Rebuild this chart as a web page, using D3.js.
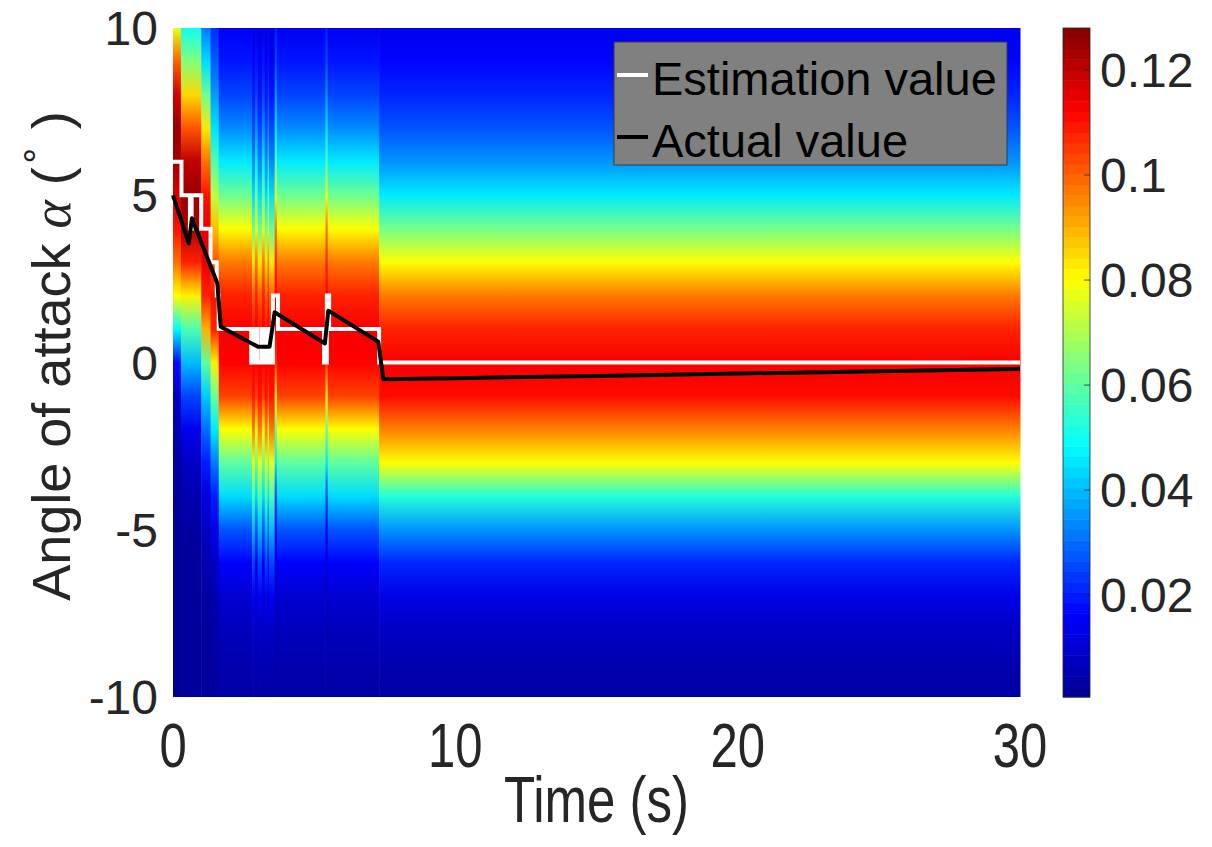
<!DOCTYPE html>
<html>
<head>
<meta charset="utf-8">
<script src="https://cdn.jsdelivr.net/npm/d3@7"></script>
<style>
  body { margin: 0; background: #fff; }
  text { font-family: "Liberation Sans", Arial, sans-serif; fill: #262626; }
</style>
</head>
<body>
<div id="chart"></div>
<script>
// angle of attack grid of the map profiles, top to bottom
const alphaGrid = [10, 9, 8, 7, 6, 5, 4, 3, 2, 1, 0, -1, -2, -3, -4, -5, -6, -7, -8, -9, -10];

// map value along alphaGrid for each kind of time column
const prof1 = [0.078, 0.100, 0.118, 0.125, 0.124, 0.117, 0.110, 0.098, 0.080, 0.048, 0.018, 0.008, 0.005, 0.003, 0.002, 0.0015, 0.001, 0.001, 0.001, 0.001, 0.001];
const prof2 = [0.050, 0.065, 0.085, 0.102, 0.120, 0.125, 0.122, 0.108, 0.082, 0.058, 0.040, 0.025, 0.014, 0.008, 0.005, 0.003, 0.002, 0.002, 0.002, 0.002, 0.002];
const prof3 = [0.032, 0.044, 0.062, 0.083, 0.098, 0.110, 0.115, 0.115, 0.108, 0.090, 0.060, 0.042, 0.030, 0.020, 0.012, 0.008, 0.005, 0.003, 0.002, 0.002, 0.002];
const prof4 = [0.022, 0.028, 0.036, 0.045, 0.058, 0.072, 0.088, 0.102, 0.110, 0.108, 0.082, 0.062, 0.046, 0.032, 0.020, 0.013, 0.008, 0.005, 0.004, 0.003, 0.002];
const prof5 = [0.015, 0.019, 0.025, 0.034, 0.046, 0.062, 0.080, 0.097, 0.108, 0.113, 0.112, 0.104, 0.080, 0.060, 0.044, 0.027, 0.016, 0.010, 0.007, 0.005, 0.004];
const prof6 = [0.012, 0.015, 0.019, 0.025, 0.033, 0.044, 0.060, 0.083, 0.100, 0.110, 0.113, 0.110, 0.097, 0.078, 0.058, 0.040, 0.025, 0.015, 0.009, 0.006, 0.004];
const profSpike = [0.020, 0.026, 0.035, 0.045, 0.059, 0.080, 0.097, 0.108, 0.113, 0.112, 0.105, 0.082, 0.060, 0.045, 0.025, 0.015, 0.010, 0.007, 0.005, 0.004, 0.003];
const profEnd = [0.014, 0.017, 0.021, 0.027, 0.035, 0.046, 0.063, 0.080, 0.097, 0.108, 0.113, 0.111, 0.096, 0.080, 0.053, 0.035, 0.021, 0.013, 0.008, 0.005, 0.004];

// time columns of the map
const colStart = [0, 0.28, 1.0, 1.33, 1.62, 2.8, 2.9, 3.0, 3.15, 3.25, 3.35, 3.4, 3.6, 3.68, 5.4, 5.48, 7.3];
const colEnd   = [0.28, 1.0, 1.33, 1.62, 2.8, 2.9, 3.0, 3.15, 3.25, 3.35, 3.4, 3.6, 3.68, 5.4, 5.48, 7.3, 30];
const colProf  = [prof1, prof2, prof3, prof4, prof5, prof6, prof5, prof6, prof5, prof6, prof5, prof6, profSpike, prof5, profSpike, prof5, profEnd];

// estimation value (steps) and actual value
const estTime  = [0, 0.3, 0.6, 0.66, 1.0, 1.33, 1.55, 1.62, 2.77, 2.9, 3.0, 3.15, 3.25, 3.35, 3.4, 3.54, 3.72, 5.35, 5.45, 5.53, 7.3, 30];
const estAlpha = [6, 5, 4, 5, 4, 3, 2, 1, 0, 1, 0, 1, 0, 1, 0, 2, 1, 0, 2, 1, 0, 0];
const actTime  = [0, 0.56, 0.67, 1.57, 1.69, 3.01, 3.42, 3.6, 5.38, 5.5, 7.27, 7.45, 10, 15, 20, 25, 30];
const actAlpha = [5.0, 3.56, 4.31, 2.37, 1.07, 0.47, 0.47, 1.5, 0.57, 1.55, 0.62, -0.5, -0.47, -0.4, -0.33, -0.26, -0.19];

const xTicks = [0, 10, 20, 30];
const yTicks = [-10, -5, 0, 5, 10];
const cTicks = [0.02, 0.04, 0.06, 0.08, 0.1, 0.12];
const cRange = [0.0006, 0.128];

const width = 1212, height = 847;
const pLeft = 173, pRight = 1020, pTop = 28, pBottom = 697;

const svg = d3.select('#chart').append('svg')
  .attr('width', width)
  .attr('height', height);

const x = d3.scaleLinear().domain([0, 30]).range([pLeft, pRight]);
const y = d3.scaleLinear().domain([-10, 10]).range([pBottom, pTop]);

// jet colormap
const span = cRange[1] - cRange[0];
const jet = d3.scaleLinear()
  .domain([0, 0.125, 0.375, 0.625, 0.875, 1].map(f => cRange[0] + f * span))
  .range(['#000090', '#0000ff', '#00ffff', '#ffff00', '#ff0000', '#800000'])
  .clamp(true);

const defs = svg.append('defs');
const profs = [prof1, prof2, prof3, prof4, prof5, prof6, profSpike, profEnd];

profs.forEach((p, i) => {
  const g = defs.append('linearGradient')
    .attr('id', 'prof' + i)
    .attr('x1', 0).attr('y1', 0).attr('x2', 0).attr('y2', 1);
  g.selectAll('stop')
    .data(p)
    .enter()
    .append('stop')
    .attr('offset', (d, j) => (y(alphaGrid[j]) - pTop) / (pBottom - pTop))
    .attr('stop-color', d => jet(d));
});

// map columns
svg.append('g')
  .selectAll('rect')
  .data(colStart)
  .enter()
  .append('rect')
  .attr('x', (d, i) => x(d))
  .attr('y', pTop)
  .attr('width', (d, i) => x(colEnd[i]) - x(d) + 0.5)
  .attr('height', pBottom - pTop)
  .attr('fill', (d, i) => 'url(#prof' + profs.indexOf(colProf[i]) + ')');

// lines
const estLine = d3.line()
  .x((d, i) => x(estTime[i]))
  .y(d => y(d))
  .curve(d3.curveStepAfter);

svg.append('path')
  .attr('d', estLine(estAlpha))
  .attr('fill', 'none')
  .attr('stroke', '#ffffff')
  .attr('stroke-width', 4);

const actLine = d3.line()
  .x((d, i) => x(actTime[i]))
  .y(d => y(d));

svg.append('path')
  .attr('d', actLine(actAlpha))
  .attr('fill', 'none')
  .attr('stroke', '#000000')
  .attr('stroke-width', 4)
  .attr('stroke-linejoin', 'round');

// axes tick labels
svg.append('g')
  .selectAll('text')
  .data(yTicks)
  .enter()
  .append('text')
  .attr('x', 158)
  .attr('y', d => y(d) + 17)
  .attr('text-anchor', 'end')
  .attr('font-size', 48)
  .text(d => d);

svg.append('g')
  .selectAll('text')
  .data(xTicks)
  .enter()
  .append('text')
  .attr('transform', d => `translate(${x(d)}, 767) scale(1, 1.28)`)
  .attr('text-anchor', 'middle')
  .attr('font-size', 49)
  .text(d => d);

svg.append('text')
  .attr('transform', `translate(${(pLeft + pRight) / 2}, 822) scale(1, 1.28)`)
  .attr('text-anchor', 'middle')
  .attr('font-size', 51)
  .text('Time (s)');

const yl = svg.append('text')
  .attr('transform', 'translate(70, 356) rotate(-90)')
  .attr('text-anchor', 'middle')
  .attr('font-size', 54);
yl.append('tspan').text('Angle of attack ');
yl.append('tspan').attr('font-family', '"Liberation Serif", serif').attr('font-style', 'italic').text('α');
yl.append('tspan').text(' (');
yl.append('tspan').attr('font-size', 36).attr('dy', -30).text('∘');
yl.append('tspan').attr('dy', 30).text(' )');

// colorbar
const cbLeft = 1063, cbRight = 1090;
const c = d3.scaleLinear().domain(cRange).range([pBottom, pTop]);
const nBands = 64;
const bandH = (pBottom - pTop) / nBands;

svg.append('g')
  .selectAll('rect')
  .data(d3.range(nBands))
  .enter()
  .append('rect')
  .attr('x', cbLeft)
  .attr('y', d => pBottom - (d + 1) * bandH)
  .attr('width', cbRight - cbLeft)
  .attr('height', bandH + 0.5)
  .attr('fill', d => jet(cRange[0] + (d + 0.5) / nBands * span));

svg.append('rect')
  .attr('x', cbLeft).attr('y', pTop)
  .attr('width', cbRight - cbLeft).attr('height', pBottom - pTop)
  .attr('fill', 'none')
  .attr('stroke', '#262626')
  .attr('stroke-width', 0.8);

svg.append('g')
  .selectAll('line')
  .data(cTicks)
  .enter()
  .append('line')
  .attr('x1', cbRight - 6).attr('x2', cbRight)
  .attr('y1', d => c(d)).attr('y2', d => c(d))
  .attr('stroke', '#262626')
  .attr('stroke-width', 0.8);

svg.append('g')
  .selectAll('text')
  .data(cTicks)
  .enter()
  .append('text')
  .attr('x', 1100)
  .attr('y', d => c(d) + 17)
  .attr('font-size', 48)
  .text(d => d);

// legend
const lg = svg.append('g');
lg.append('rect')
  .attr('x', 614).attr('y', 42)
  .attr('width', 393).attr('height', 123)
  .attr('fill', '#808080')
  .attr('stroke', '#3a3a3a')
  .attr('stroke-width', 1);

const legendNames = ['Estimation value', 'Actual value'];
const legendColors = ['#ffffff', '#000000'];

legendNames.forEach((name, i) => {
  const ly = 75 + i * 62;
  lg.append('line')
    .attr('x1', 617).attr('x2', 648)
    .attr('y1', ly).attr('y2', ly)
    .attr('stroke', legendColors[i])
    .attr('stroke-width', 4);
  lg.append('text')
    .attr('x', 652)
    .attr('y', ly + 20)
    .attr('font-size', 47)
    .style('fill', '#000')
    .text(name);
});
</script>
</body>
</html>
